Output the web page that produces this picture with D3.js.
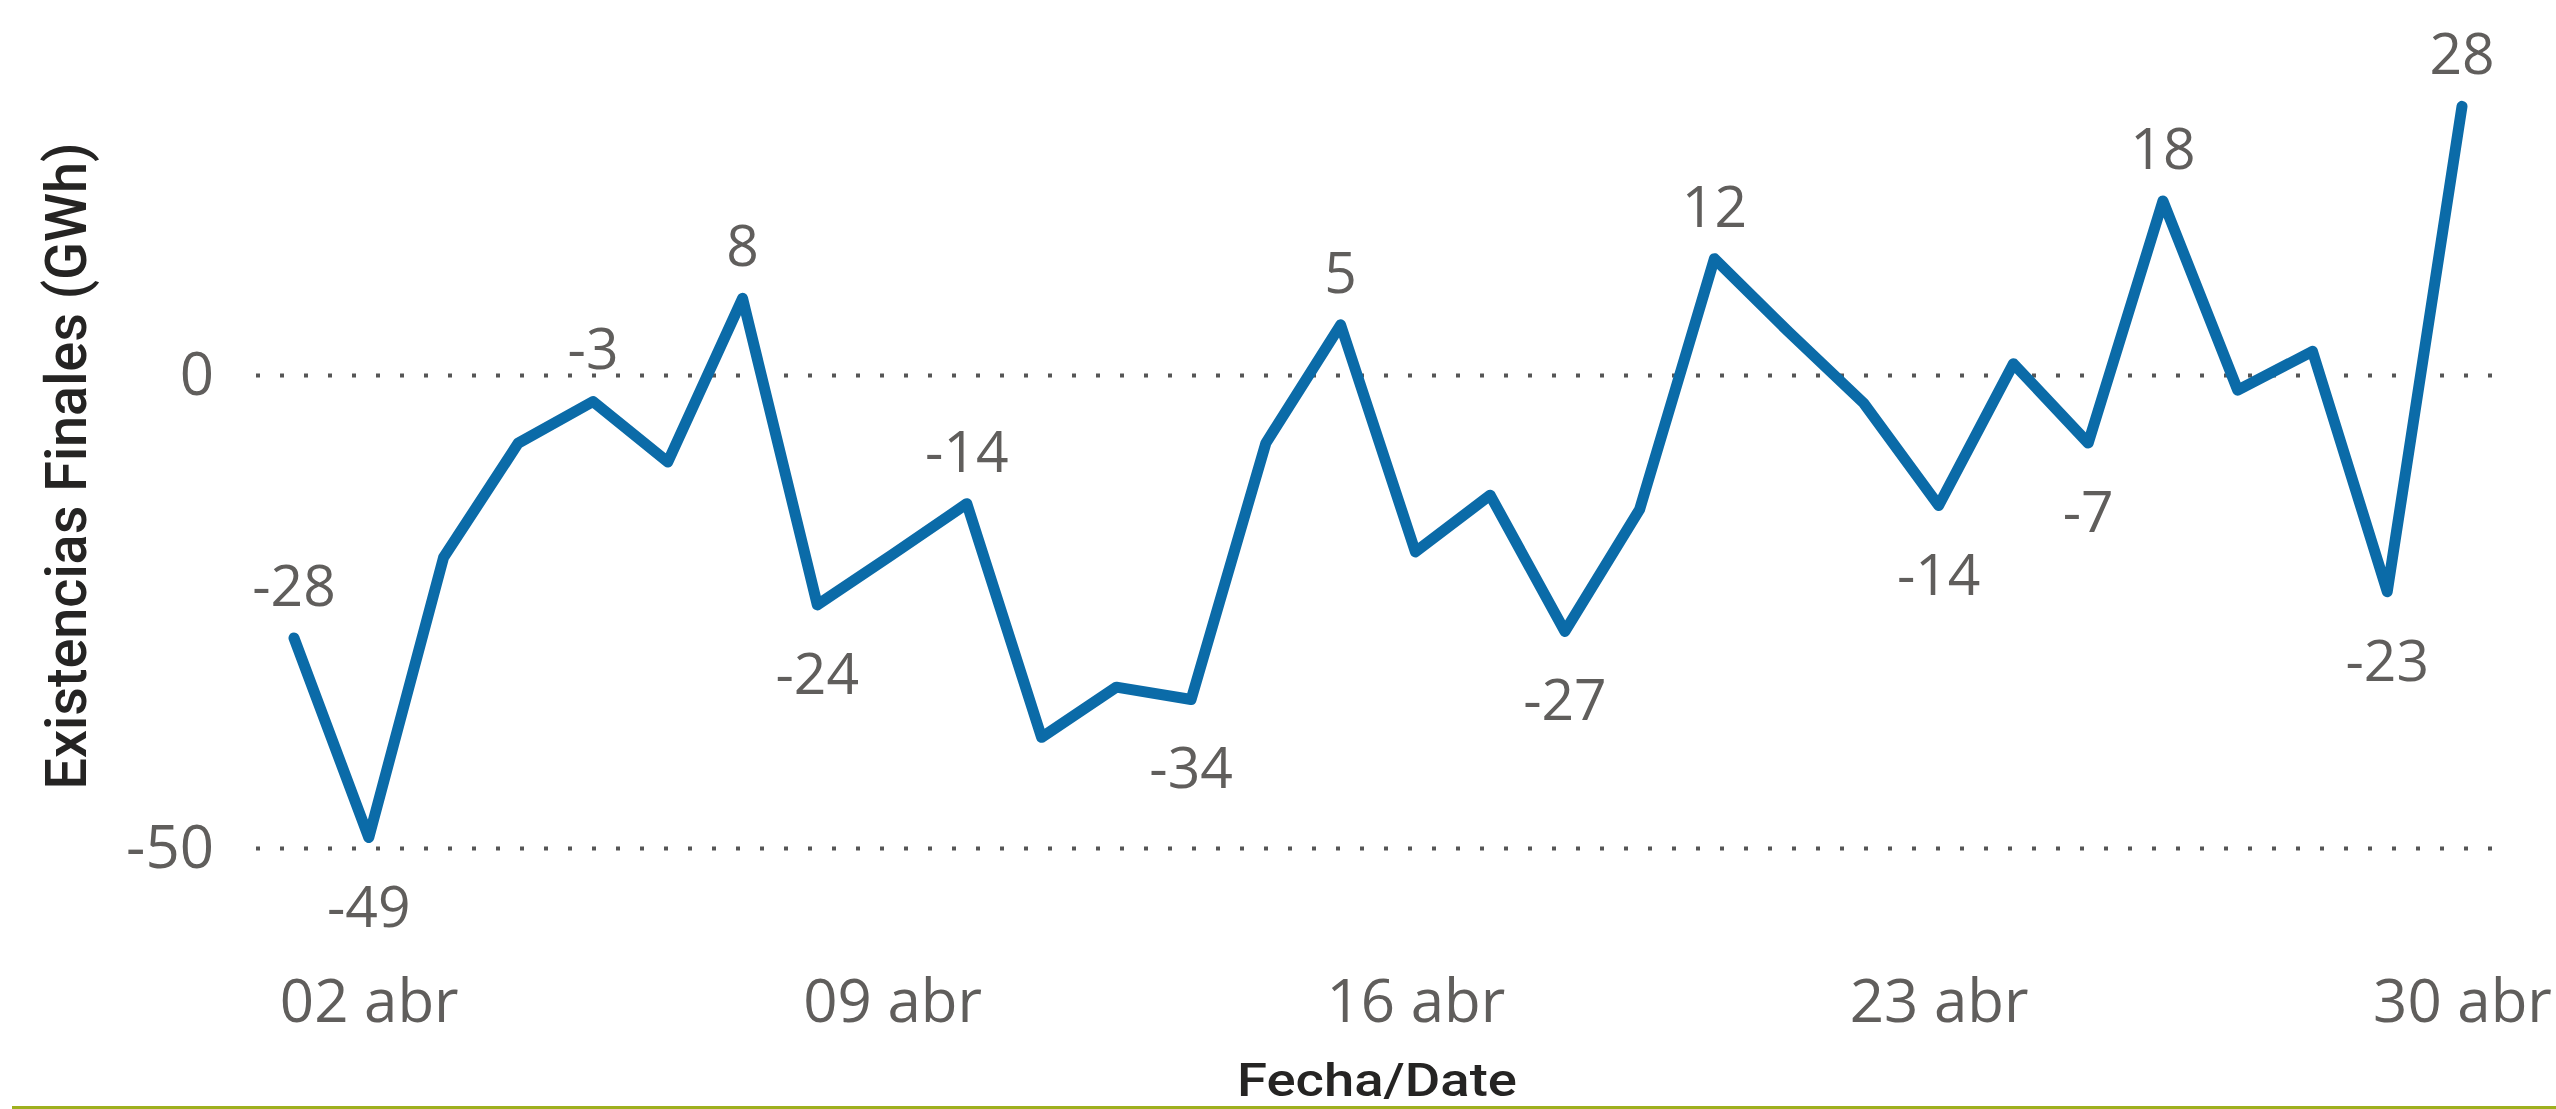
<!DOCTYPE html>
<html>
<head>
<meta charset="utf-8">
<script src="https://cdn.jsdelivr.net/npm/d3@7/dist/d3.min.js"></script>
<style>
  html, body { margin: 0; padding: 0; background: #fff; }
  svg { display: block; }
</style>
</head>
<body>
<div id="chart"></div>
<script>
// daily values, april
const dates = [
  "2023-04-01", "2023-04-02", "2023-04-03", "2023-04-04", "2023-04-05",
  "2023-04-06", "2023-04-07", "2023-04-08", "2023-04-09", "2023-04-10",
  "2023-04-11", "2023-04-12", "2023-04-13", "2023-04-14", "2023-04-15",
  "2023-04-16", "2023-04-17", "2023-04-18", "2023-04-19", "2023-04-20",
  "2023-04-21", "2023-04-22", "2023-04-23", "2023-04-24", "2023-04-25",
  "2023-04-26", "2023-04-27", "2023-04-28", "2023-04-29", "2023-04-30"
];
const existencias = [
  -27.8, -48.9, -19.3, -7.2, -2.8, -9.2, 8.1, -24.3, -19.0, -13.6,
  -38.3, -33.0, -34.3, -7.2, 5.3, -18.7, -12.7, -27.1, -14.2, 12.3,
  4.5, -3.0, -13.8, 1.2, -7.2, 18.4, -1.6, 2.5, -22.9, 28.4
];
// dates that carry a data label
const labeledDates = [
  "2023-04-01", "2023-04-02", "2023-04-05", "2023-04-07", "2023-04-08",
  "2023-04-10", "2023-04-13", "2023-04-15", "2023-04-18", "2023-04-20",
  "2023-04-23", "2023-04-25", "2023-04-26", "2023-04-29", "2023-04-30"
];
const xTickDates = ["2023-04-02", "2023-04-09", "2023-04-16", "2023-04-23", "2023-04-30"];
const xTickLabels = ["02 abr", "09 abr", "16 abr", "23 abr", "30 abr"];
const yTicks = [0, -50];
const yTitle = "Existencias Finales (GWh)";
const xTitle = "Fecha/Date";

const width = 2556, height = 1109;
const numFont = "'Open Sans', 'Noto Sans', sans-serif";
const titleFont = "'Roboto', 'DejaVu Sans Condensed', sans-serif";
const gray = "#605E5C";

const parse = d3.utcParse("%Y-%m-%d");
const data = dates.map((d, i) => ({ date: parse(d), value: existencias[i], key: d }));

const svg = d3.select("#chart").append("svg")
    .attr("width", width)
    .attr("height", height);

svg.append("rect").attr("width", width).attr("height", height).attr("fill", "#fff");

const x = d3.scaleUtc()
    .domain(d3.extent(data, d => d.date))
    .range([294, 2462]);

const y = d3.scaleLinear()
    .domain([-50, 0])
    .range([848, 375]);

// dotted gridlines + y labels
const gridLeft = 256, gridRight = 2492;
const yAxis = svg.append("g")
    .attr("transform", "translate(" + gridLeft + ",0)")
    .call(d3.axisLeft(y).tickValues(yTicks).tickSize(-(gridRight - gridLeft)).tickPadding(42).tickFormat(d3.format("d")));
yAxis.select(".domain").remove();
yAxis.selectAll(".tick line")
    .attr("stroke", "#555")
    .attr("stroke-width", 4)
    .attr("stroke-dasharray", "4 20");
yAxis.selectAll(".tick text")
    .attr("fill", gray)
    .style("font-family", numFont)
    .style("font-size", "60px")
    .text(d => d < 0 ? "-" + Math.abs(d) : d);

// x axis labels
const xAxis = svg.append("g")
    .attr("transform", "translate(0,960)")
    .call(d3.axisBottom(x)
        .tickValues(xTickDates.map(parse))
        .tickSize(0)
        .tickPadding(0)
        .tickFormat((d, i) => xTickLabels[i]));
xAxis.select(".domain").remove();
xAxis.selectAll(".tick text")
    .attr("fill", gray)
    .attr("dy", "1.03em")
    .style("font-family", numFont)
    .style("font-size", "60px");

// the line
const line = d3.line()
    .x(d => x(d.date))
    .y(d => y(d.value));

svg.append("path")
    .datum(data)
    .attr("fill", "none")
    .attr("stroke", "#0B6BA8")
    .attr("stroke-width", 11)
    .attr("stroke-linejoin", "round")
    .attr("stroke-linecap", "round")
    .attr("d", line);

// data labels: above local peaks, below local valleys
function isPeak(i) {
    const prev = i > 0 ? data[i - 1].value : -Infinity;
    const next = i < data.length - 1 ? data[i + 1].value : -Infinity;
    return data[i].value >= prev && data[i].value >= next;
}

const labelData = data.map((d, i) => Object.assign({ peak: isPeak(i) }, d))
    .filter(d => labeledDates.includes(d.key));

svg.append("g").selectAll("text")
    .data(labelData)
    .enter().append("text")
    .attr("x", d => x(d.date))
    .attr("y", d => d.peak ? y(d.value) - 32 : y(d.value) + 89)
    .attr("text-anchor", "middle")
    .attr("fill", gray)
    .style("font-family", numFont)
    .style("font-size", "57px")
    .text(d => {
        const v = Math.round(d.value);
        return v < 0 ? "-" + Math.abs(v) : v;
    });

// axis titles
svg.append("text")
    .attr("transform", "translate(86,466) rotate(-90)")
    .attr("text-anchor", "middle")
    .attr("fill", "#252423")
    .style("font-family", titleFont)
    .style("font-weight", 500)
    .style("font-size", "58px")
    .attr("textLength", 647)
    .attr("lengthAdjust", "spacingAndGlyphs")
    .text(yTitle);

svg.append("text")
    .attr("x", 1377)
    .attr("y", 1096)
    .attr("text-anchor", "middle")
    .attr("fill", "#252423")
    .style("font-family", titleFont)
    .style("font-weight", 500)
    .style("font-size", "46px")
    .attr("textLength", 280)
    .attr("lengthAdjust", "spacingAndGlyphs")
    .text(xTitle);

// bottom accent rule
svg.append("rect")
    .attr("x", 12)
    .attr("y", 1106)
    .attr("width", width - 12)
    .attr("height", 3)
    .attr("fill", "#9EB01E");
</script>
</body>
</html>
